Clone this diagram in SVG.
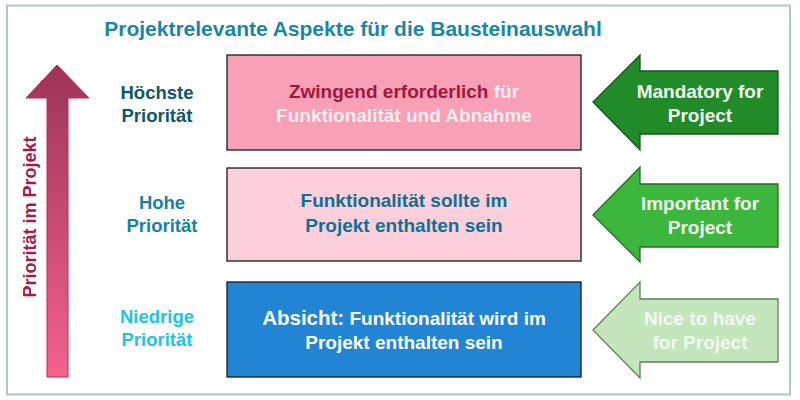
<svg xmlns="http://www.w3.org/2000/svg" width="800" height="400" viewBox="0 0 800 400">
<defs>
<linearGradient id="axisGrad" x1="0" y1="0" x2="0" y2="1">
<stop offset="0" stop-color="#9c3458"/>
<stop offset="1" stop-color="#f4628a"/>
</linearGradient>
<style>
text{font-family:"Liberation Sans",Arial,sans-serif;font-weight:bold;text-anchor:middle}
.box{stroke:#1a1a1a;stroke-width:1.3}
.lbl{font-size:18.5px}
.bt{font-size:19px}
.arr{stroke-width:1.3}
</style>
</defs>
<rect x="0" y="0" width="800" height="400" fill="#ffffff"/>
<rect x="7" y="5.5" width="783" height="389" fill="none" stroke="#a9c7d6" stroke-width="2"/>
<text id="title" x="353" y="36" font-size="21" fill="#1a86a6">Projektrelevante Aspekte für die Bausteinauswahl</text>

<g id="connectors">
<g id="priority-axis">
<polygon points="57,65 89,98 68,98 68,377 47,377 47,98 26,98" fill="url(#axisGrad)" stroke="#c42658" stroke-width="1"/>
<text x="0" y="0" transform="translate(36,217) rotate(-90)" font-size="18" fill="#a31c48">Priorität im Projekt</text>
</g>
</g>

<g id="label-hoechste">
<text class="lbl" x="157" y="99" fill="#0c5868">Höchste</text>
<text class="lbl" x="157" y="122" fill="#0c5868">Priorität</text>
</g>
<g id="label-hohe">
<text class="lbl" x="162" y="209" fill="#1782a2">Hohe</text>
<text class="lbl" x="162" y="232" fill="#1782a2">Priorität</text>
</g>
<g id="label-niedrige">
<text class="lbl" x="157" y="323" fill="#22c4e2">Niedrige</text>
<text class="lbl" x="157" y="346" fill="#22c4e2">Priorität</text>
</g>

<g id="box-zwingend">
<rect class="box" x="227" y="55" width="354" height="95" fill="#f8a0b5"/>
<text class="bt" x="404" y="98"><tspan fill="#a3173f">Zwingend erforderlich</tspan><tspan fill="#fdeef2"> für</tspan></text>
<text class="bt" x="404" y="122" fill="#fdeef2">Funktionalität und Abnahme</text>
</g>
<g id="box-sollte">
<rect class="box" x="227" y="168" width="354" height="93" fill="#fdcfdb"/>
<text class="bt" x="404" y="207" fill="#0f7096">Funktionalität sollte im</text>
<text class="bt" x="404" y="232" fill="#0f7096">Projekt enthalten sein</text>
</g>
<g id="box-absicht">
<rect class="box" x="227" y="282" width="354" height="95" fill="#2284d4"/>
<text class="bt" x="404" y="325" fill="#ffffff"><tspan font-size="20.5">Absicht:</tspan> Funktionalität wird im</text>
<text class="bt" x="404" y="349" fill="#ffffff">Projekt enthalten sein</text>
</g>

<g id="arrow-mandatory">
<polygon class="arr" points="593,102 640,55 640,71 778,71 778,134 640,134 640,150" fill="#218b2a" stroke="#15561a"/>
<text class="bt" x="700" y="98" fill="#f2fbf2">Mandatory for</text>
<text class="bt" x="700" y="122" fill="#f2fbf2">Project</text>
</g>
<g id="arrow-important">
<polygon class="arr" points="593,215 640,167 640,184 778,184 778,247 640,247 640,262" fill="#3db63d" stroke="#256b25"/>
<text class="bt" x="700" y="210" fill="#f2fbf2">Important for</text>
<text class="bt" x="700" y="234" fill="#f2fbf2">Project</text>
</g>
<g id="arrow-nice">
<polygon class="arr" points="593,330 640,282 640,299 778,299 778,362 640,362 640,378" fill="#c3e6bd" stroke="#5f7f56"/>
<text class="bt" x="700" y="325" fill="#f2faf0">Nice to have</text>
<text class="bt" x="700" y="349" fill="#f2faf0">for Project</text>
</g>
</svg>
